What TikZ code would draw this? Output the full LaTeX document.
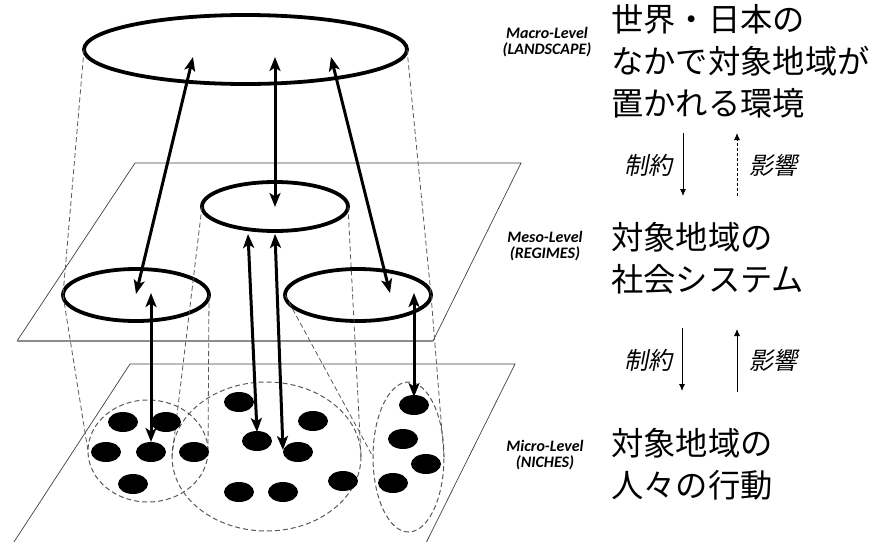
\documentclass[tikz,border=0pt]{standalone}
\usepackage{fontspec}
\setmainfont{Carlito}
\newfontfamily\jp{Noto Sans CJK JP}
\newfontfamily\jpit[FakeSlant=0.2]{Noto Sans CJK JP}
\usetikzlibrary{arrows.meta,shapes.geometric}
\begin{document}
\begin{tikzpicture}[x=1pt,y=-1pt,
  ring/.style={ellipse, draw, line width=3.8pt, inner sep=0pt, outer sep=0pt},
  grp/.style={ellipse, draw=black!65, line width=1pt, dash pattern=on 5pt off 3pt, inner sep=0pt, outer sep=0pt},
  blob/.style={ellipse, fill=black, minimum width=30pt, minimum height=20pt, inner sep=0pt},
  proj/.style={draw=black!65, line width=0.8pt, dash pattern=on 5pt off 3pt},
  link/.style={line width=3pt, {Stealth[length=14pt,width=11pt,inset=3.5pt]}-{Stealth[length=14pt,width=11pt,inset=3.5pt]}},
  plane/.style={draw=black!75, line width=0.7pt},
  lvl/.style={font=\fontsize{16}{15.5}\selectfont\bfseries\itshape, align=center, inner sep=0pt},
  big/.style={font=\jp\fontsize{32.3}{42}\selectfont, align=left, inner sep=0pt, anchor=west},
  small/.style={font=\jpit\fontsize{24}{28}\selectfont, inner sep=0pt},
  down/.style={line width=0.8pt, -{Latex[length=7pt,width=6pt]}},
  updash/.style={line width=0.8pt, dash pattern=on 3pt off 2pt, -{Latex[length=7pt,width=6pt]}}
]
\useasboundingbox (0,0) rectangle (872,541);
% planes
\draw[plane] (17,341) -- (135,163) -- (521,163) -- (433,341);
\draw[black!45, line width=1.6pt] (17,341) -- (433,341);
\draw[plane] (12,545) -- (130,364) -- (515,364) -- (425,545);
% ellipses (nodes)
\node[ring, minimum width=323pt, minimum height=69pt] (macro) at (245.5,49.5) {};
\node[ring, minimum width=146pt, minimum height=49pt] (mesoC) at (275,206.5) {};
\node[ring, minimum width=146pt, minimum height=52pt] (mesoL) at (136,295) {};
\node[ring, minimum width=146pt, minimum height=52pt] (mesoR) at (358,295) {};
\node[grp, minimum width=120pt, minimum height=102pt] (microL) at (148,451) {};
\node[grp, minimum width=189pt, minimum height=149pt] (microC) at (266.5,456.5) {};
\node[grp, minimum width=71pt, minimum height=150pt] (microR) at (408.5,457) {};
% projection lines
\draw[proj] (macro.west) -- (mesoL.west);
\draw[proj] (macro.east) -- (mesoR.east);
\draw[proj] (mesoC.west) -- (microC.west);
\draw[proj] (mesoC.east) -- (microC.east);
\draw[proj] (mesoL.west) -- (microL.west);
\draw[proj] (mesoL.east) -- (microL.east);
\draw[proj] (mesoR.west) -- (microR.west);
\draw[proj] (mesoR.east) -- (microR.east);
% dots
\node[blob] (l1) at (123,422) {};
\node[blob] (l2) at (166,422) {};
\node[blob] (l3) at (106,452) {};
\node[blob] (l4) at (151,452) {};
\node[blob] (l5) at (194,452) {};
\node[blob] (l6) at (133,484) {};
\node[blob] (c1) at (239,402) {};
\node[blob] (c2) at (313,421) {};
\node[blob] (c3) at (257,441) {};
\node[blob] (c4) at (298,452) {};
\node[blob] (c5) at (343,481) {};
\node[blob] (c6) at (239,492) {};
\node[blob] (c7) at (283,492) {};
\node[blob] (r1) at (414,405) {};
\node[blob] (r2) at (403,439) {};
\node[blob] (r3) at (426,464) {};
\node[blob] (r4) at (393,483) {};
% arrow end points
\coordinate (a1t) at (193,57);  \coordinate (a1b) at (136,294);
\coordinate (a2t) at (275,57);  \coordinate (a2b) at (275,207);
\coordinate (a3t) at (331,57);  \coordinate (a3b) at (390,293);
\coordinate (a4t) at (151,293); \coordinate (a4b) at (151,442);
\coordinate (a5t) at (248,234); \coordinate (a5b) at (257,432);
\coordinate (a6t) at (275,234); \coordinate (a6b) at (283,450);
\coordinate (a7t) at (414,293); \coordinate (a7b) at (414,397);
\draw[link] (a1t) -- (a1b);
\draw[link] (a2t) -- (a2b);
\draw[link] (a3t) -- (a3b);
\draw[link] (a4t) -- (a4b);
\draw[link] (a5t) -- (a5b);
\draw[link] (a6t) -- (a6b);
\draw[link] (a7t) -- (a7b);
% level labels
\node[lvl] (macroLbl) at (547,42) {Macro-Level\\(LANDSCAPE)};
\node[lvl] (mesoLbl) at (545,246) {Meso-Level\\(REGIMES)};
\node[lvl] (microLbl) at (545,455) {Micro-Level\\(NICHES)};
% Japanese texts
\node[big] (macroJ) at (611,61) {世界・日本の\\なかで対象地域が\\置かれる環境};
\node[big] (mesoJ) at (611,258) {対象地域の\\社会システム};
\node[big] (microJ) at (611,464) {対象地域の\\人々の行動};
\node[small] (s1) at (648,165) {制約};
\node[small] (e1) at (773,165) {影響};
\node[small] (s2) at (648,360) {制約};
\node[small] (e2) at (773,360) {影響};
\coordinate (d1t) at (683,133); \coordinate (d1b) at (683,196);
\coordinate (u1b) at (737,196); \coordinate (u1t) at (737,133);
\coordinate (d2t) at (682,328); \coordinate (d2b) at (682,391);
\coordinate (u2b) at (737,392); \coordinate (u2t) at (737,329);
\draw[down] (d1t) -- (d1b);
\draw[updash] (u1b) -- (u1t);
\draw[down] (d2t) -- (d2b);
\draw[down] (u2b) -- (u2t);
\end{tikzpicture}
\end{document}
